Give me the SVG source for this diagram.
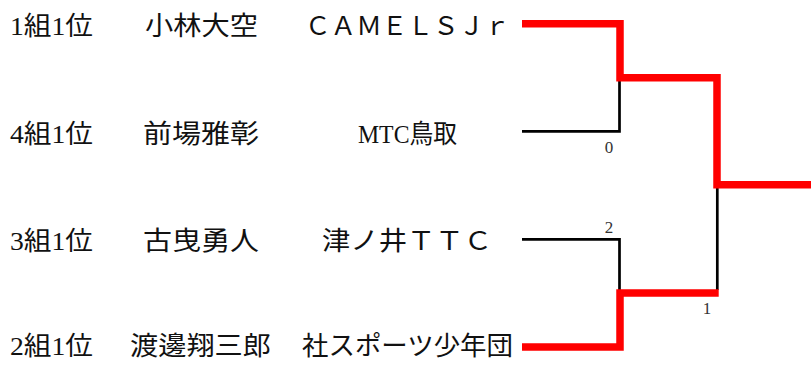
<svg xmlns="http://www.w3.org/2000/svg" width="811" height="372" viewBox="0 0 811 372">
<style>
text{font-family:"Liberation Serif","Noto Sans CJK JP",serif;font-size:26px;fill:#111}
.s{font-size:17px;fill:#333;text-anchor:middle}
.red{fill:none;stroke:#ff0000;stroke-width:7.5;stroke-linejoin:miter;stroke-linecap:butt}
.blk{fill:none;stroke:#000;stroke-width:2.7;stroke-linecap:butt}
</style>
<rect width="811" height="372" fill="#fff"/>
<g id="connectors">
<path class="blk" d="M522,131.3 H619.5 V80"/>
<path class="blk" d="M522,239.3 H619.5 V290"/>
<path class="blk" d="M717.3,188 V290"/>
<path class="red" d="M522,23.7 H620 V77.7 H717 V184.7 H811"/>
<path class="red" d="M522,347 H620 V293 H718.7"/>
<text class="s" x="609" y="152.5">0</text>
<text class="s" x="609" y="232.5">2</text>
<text class="s" x="707" y="313.5">1</text>
</g>
<g id="team1">
<text x="10" y="34.5" textLength="83" lengthAdjust="spacingAndGlyphs">1組1位</text>
<text x="145" y="34.5" textLength="113" lengthAdjust="spacingAndGlyphs">小林大空</text>
<text x="305" y="34.5" textLength="205" lengthAdjust="spacingAndGlyphs">ＣＡＭＥＬＳＪｒ</text>
</g>
<g id="team2">
<text x="10" y="142.5" textLength="83" lengthAdjust="spacingAndGlyphs">4組1位</text>
<text x="143" y="142.5" textLength="116" lengthAdjust="spacingAndGlyphs">前場雅彰</text>
<text x="358" y="142.5" textLength="99" lengthAdjust="spacingAndGlyphs">MTC鳥取</text>
</g>
<g id="team3">
<text x="10" y="250" textLength="83" lengthAdjust="spacingAndGlyphs">3組1位</text>
<text x="143" y="250" textLength="116" lengthAdjust="spacingAndGlyphs">古曳勇人</text>
<text x="322" y="250" textLength="170" lengthAdjust="spacingAndGlyphs">津ノ井ＴＴＣ</text>
</g>
<g id="team4">
<text x="10" y="355" textLength="83" lengthAdjust="spacingAndGlyphs">2組1位</text>
<text x="130" y="355" textLength="141" lengthAdjust="spacingAndGlyphs">渡邊翔三郎</text>
<text x="302" y="355" textLength="211" lengthAdjust="spacingAndGlyphs">社スポーツ少年団</text>
</g>
</svg>
